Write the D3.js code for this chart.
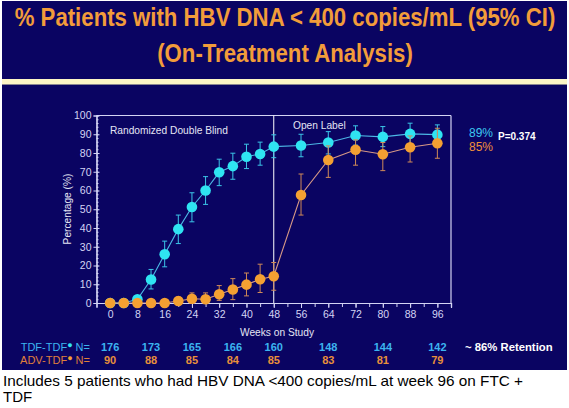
<!DOCTYPE html>
<meta charset="utf-8">
<script src="https://d3js.org/d3.v7.min.js"></script>
<style>
  body { margin: 0; background: #fff; }
  text { font-family: Arial, "Liberation Sans", sans-serif; }
</style>
<div id="chart"></div>
<script>

// data
var weeks = [0, 4, 8, 12, 16, 20, 24, 28, 32, 36, 40, 44, 48, 56, 64, 72, 80, 88, 96];
var tdf   = [0, 0, 2, 12.5, 26, 39.4, 51.2, 60, 69.7, 73, 78, 79.5, 83.4, 84, 85.6, 89.3, 88.6, 90.2, 89.8];
var tdfLo = [null, null, 0, 7.5, 19.3, 31.7, 43.3, 52.6, 62.6, 66, 71.7, 73.5, 77.5, 78, 79.5, 84.2, 83.4, 84.9, 84.3];
var tdfHi = [null, null, 4, 17.9, 33, 46.9, 58.8, 67.4, 76.7, 79.9, 84.7, 85.8, 89.7, 90, 91.4, 94.5, 94.1, 95.9, 95];
var adv   = [0, 0, 0, 0, 0, 1.1, 2.3, 2, 4.7, 7.2, 9.8, 12.7, 14.3, 57.6, 76.3, 81.7, 79.3, 83.1, 85.2];
var advLo = [null, null, null, null, null, 0, 0, 0, 1.4, 1.8, 3.8, 5.6, 6.8, 46.9, 67, 73.5, 70.6, 75.2, 77.2];
var advHi = [null, null, null, null, null, 3.2, 5.4, 5.4, 9.3, 13, 16, 20.7, 21.6, 68.8, 83.8, 87, 85.6, 89.1, 93.2];

var nWeeks = [0, 12, 24, 36, 48, 64, 80, 96];
var nTdf = [176, 173, 165, 166, 160, 148, 144, 142];
var nAdv = [90, 88, 85, 84, 85, 83, 81, 79];

var xTicks = [0, 8, 16, 24, 32, 40, 48, 56, 64, 72, 80, 88, 96];
var yTicks = [0, 10, 20, 30, 40, 50, 60, 70, 80, 90, 100];

var navy = "#0a0462", cyan = "#2fe4f2", orange = "#f4a032",
    axisCol = "#d4d4f4";
var narrow = "'Liberation Sans Narrow', 'Arial Narrow', Arial, sans-serif";

var W = 569, H = 408;
var svg = d3.select("#chart").append("svg")
    .attr("width", W).attr("height", H);

// slide background
svg.append("rect").attr("x", 2).attr("y", 1).attr("width", 565).attr("height", 369)
  .attr("fill", navy);
svg.append("rect").attr("x", 2).attr("y", 79).attr("width", 565).attr("height", 5)
  .attr("fill", "#fdf6c6");
svg.append("rect").attr("x", 2).attr("y", 84).attr("width", 565).attr("height", 1)
  .attr("fill", "#8a8690");

// title (stretched a little vertically, like the slide's condensed face)
svg.append("text").attr("transform", "translate(285,25.5) scale(1,1.15)").attr("text-anchor", "middle")
  .attr("font-size", 22.2).attr("font-weight", "bold").attr("fill", "#f29c3a")
  .text("% Patients with HBV DNA < 400 copies/mL (95% CI)");
svg.append("text").attr("transform", "translate(285,62) scale(1,1.15)").attr("text-anchor", "middle")
  .attr("font-size", 22.2).attr("font-weight", "bold").attr("fill", "#f29c3a")
  .text("(On-Treatment Analysis)");

// scales
var x = d3.scaleLinear().domain([-4, 100]).range([96.5, 451]);
var y = d3.scaleLinear().domain([0, 100]).range([303, 115.5]);

var g = svg.append("g");

// frame (top and right)
g.append("line").attr("x1", x(-4)).attr("x2", x(100)).attr("y1", y(100)).attr("y2", y(100))
  .attr("stroke", axisCol).attr("stroke-width", 1.2);
g.append("line").attr("x1", x(100)).attr("x2", x(100)).attr("y1", y(100)).attr("y2", y(0))
  .attr("stroke", axisCol).attr("stroke-width", 1.2);

// x axis
var xMinor = g.append("g").attr("transform", "translate(0," + y(0) + ")")
  .call(d3.axisBottom(x).tickValues(d3.range(0, 100, 4)).tickSize(4).tickFormat(""));
var xAxis = g.append("g").attr("transform", "translate(0," + y(0) + ")")
  .call(d3.axisBottom(x).tickValues(xTicks).tickSize(5).tickPadding(3));
xAxis.selectAll("text").attr("font-size", 10.5).attr("fill", axisCol)
  .attr("font-family", narrow);

// y axis
var yMinor = g.append("g").attr("transform", "translate(" + x(-4) + ",0)")
  .call(d3.axisLeft(y).tickValues(d3.range(0, 101, 2)).tickSize(-2).tickFormat(""));
var yAxis = g.append("g").attr("transform", "translate(" + x(-4) + ",0)")
  .call(d3.axisLeft(y).tickValues(yTicks).tickSize(3).tickPadding(2));
yAxis.selectAll("text").attr("font-size", 10.5).attr("fill", axisCol)
  .attr("font-family", narrow);
yAxis.selectAll(".tick line").attr("x1", -3).attr("x2", 3);

[xMinor, xAxis, yMinor, yAxis].forEach(function(a) {
  a.select(".domain").attr("stroke", axisCol).attr("stroke-width", 1.2);
  a.selectAll(".tick line").attr("stroke", axisCol);
});

// week 48 divider
g.append("line").attr("x1", x(48)).attr("x2", x(48)).attr("y1", y(100)).attr("y2", y(0))
  .attr("stroke", "#ffffff").attr("stroke-width", 1);

// plot labels
svg.append("text").attr("x", 110).attr("y", 134).attr("font-size", 10.2).attr("fill", "#e4e4f4")
  .text("Randomized Double Blind");
svg.append("text").attr("x", 293).attr("y", 129).attr("font-size", 10.2).attr("fill", "#e4e4f4")
  .text("Open Label");
svg.append("text").attr("transform", "translate(71,209) rotate(-90)").attr("text-anchor", "middle")
  .attr("font-size", 10.2).attr("fill", "#e4e4f4").text("Percentage (%)");
svg.append("text").attr("x", 277).attr("y", 336).attr("text-anchor", "middle")
  .attr("font-size", 10.2).attr("fill", "#e4e4f4").text("Weeks on Study");

// series
function drawSeries(vals, lo, hi, lineCol, barCol, dotCol) {
  var pts = weeks.map(function(w, i) { return { w: w, v: vals[i], lo: lo[i], hi: hi[i] }; });
  var s = g.append("g");
  s.append("path").datum(pts)
    .attr("d", d3.line().x(function(d) { return x(d.w); }).y(function(d) { return y(d.v); }))
    .attr("fill", "none").attr("stroke", lineCol).attr("stroke-width", 1.1);
  var eb = s.selectAll(".eb").data(pts.filter(function(d) { return d.lo !== null; }))
    .enter().append("g").attr("stroke", barCol).attr("stroke-width", 1);
  eb.append("line").attr("x1", function(d) { return x(d.w); }).attr("x2", function(d) { return x(d.w); })
    .attr("y1", function(d) { return y(d.lo); }).attr("y2", function(d) { return y(d.hi); });
  eb.append("line").attr("x1", function(d) { return x(d.w) - 2.5; }).attr("x2", function(d) { return x(d.w) + 2.5; })
    .attr("y1", function(d) { return y(d.hi); }).attr("y2", function(d) { return y(d.hi); });
  eb.append("line").attr("x1", function(d) { return x(d.w) - 2.5; }).attr("x2", function(d) { return x(d.w) + 2.5; })
    .attr("y1", function(d) { return y(d.lo); }).attr("y2", function(d) { return y(d.lo); });
  s.selectAll("circle").data(pts).enter().append("circle")
    .attr("cx", function(d) { return x(d.w); }).attr("cy", function(d) { return y(d.v); })
    .attr("r", 5.3).attr("fill", dotCol);
}
drawSeries(tdf, tdfLo, tdfHi, "#4cb8e6", "#3cc6e8", cyan);
drawSeries(adv, advLo, advHi, "#d89a86", "#d08a58", orange);

// end labels
svg.append("text").attr("x", 469).attr("y", 137).attr("font-size", 12).attr("fill", "#3cc8f0")
  .text("89%");
svg.append("text").attr("x", 469).attr("y", 151).attr("font-size", 12).attr("fill", "#f0903a")
  .text("85%");
svg.append("text").attr("x", 498).attr("y", 140).attr("font-size", 10).attr("font-weight", "bold")
  .attr("fill", "#ffffff").text("P=0.374");

// N at risk rows
var rowTdf = svg.append("text").attr("x", 90).attr("y", 351).attr("text-anchor", "end")
  .attr("font-size", 11).attr("font-family", narrow).attr("fill", "#3cb4f0");
rowTdf.append("tspan").text("TDF-TDF");
rowTdf.append("tspan").attr("fill", cyan).attr("font-size", 9).attr("dy", -3).text("\u25CF");
rowTdf.append("tspan").attr("dy", 3).text(" N=");
var rowAdv = svg.append("text").attr("x", 90).attr("y", 364).attr("text-anchor", "end")
  .attr("font-size", 11).attr("font-family", narrow).attr("fill", "#e0803a");
rowAdv.append("tspan").text("ADV-TDF");
rowAdv.append("tspan").attr("fill", orange).attr("font-size", 9).attr("dy", -3).text("\u25CF");
rowAdv.append("tspan").attr("dy", 3).text(" N=");

svg.selectAll(".nt").data(nWeeks).enter().append("text")
  .attr("x", function(d) { return x(d); }).attr("y", 351).attr("text-anchor", "middle")
  .attr("font-size", 11).attr("font-weight", "bold").attr("font-family", narrow).attr("fill", "#3cb4f0")
  .text(function(d, i) { return nTdf[i]; });
svg.selectAll(".na").data(nWeeks).enter().append("text")
  .attr("x", function(d) { return x(d); }).attr("y", 364).attr("text-anchor", "middle")
  .attr("font-size", 11).attr("font-weight", "bold").attr("font-family", narrow).attr("fill", "#e8903a")
  .text(function(d, i) { return nAdv[i]; });

svg.append("text").attr("x", 465).attr("y", 351).attr("font-size", 11.3).attr("font-weight", "bold")
  .attr("fill", "#ffffff").text("~ 86% Retention");

// footnote
svg.append("text").attr("x", 3).attr("y", 386).attr("font-size", 15).attr("fill", "#000")
  .attr("textLength", 520).attr("lengthAdjust", "spacingAndGlyphs")
  .text("Includes 5 patients who had HBV DNA <400 copies/mL at week 96 on FTC +");
svg.append("text").attr("x", 3).attr("y", 402).attr("font-size", 15).attr("fill", "#000")
  .text("TDF");

</script>
